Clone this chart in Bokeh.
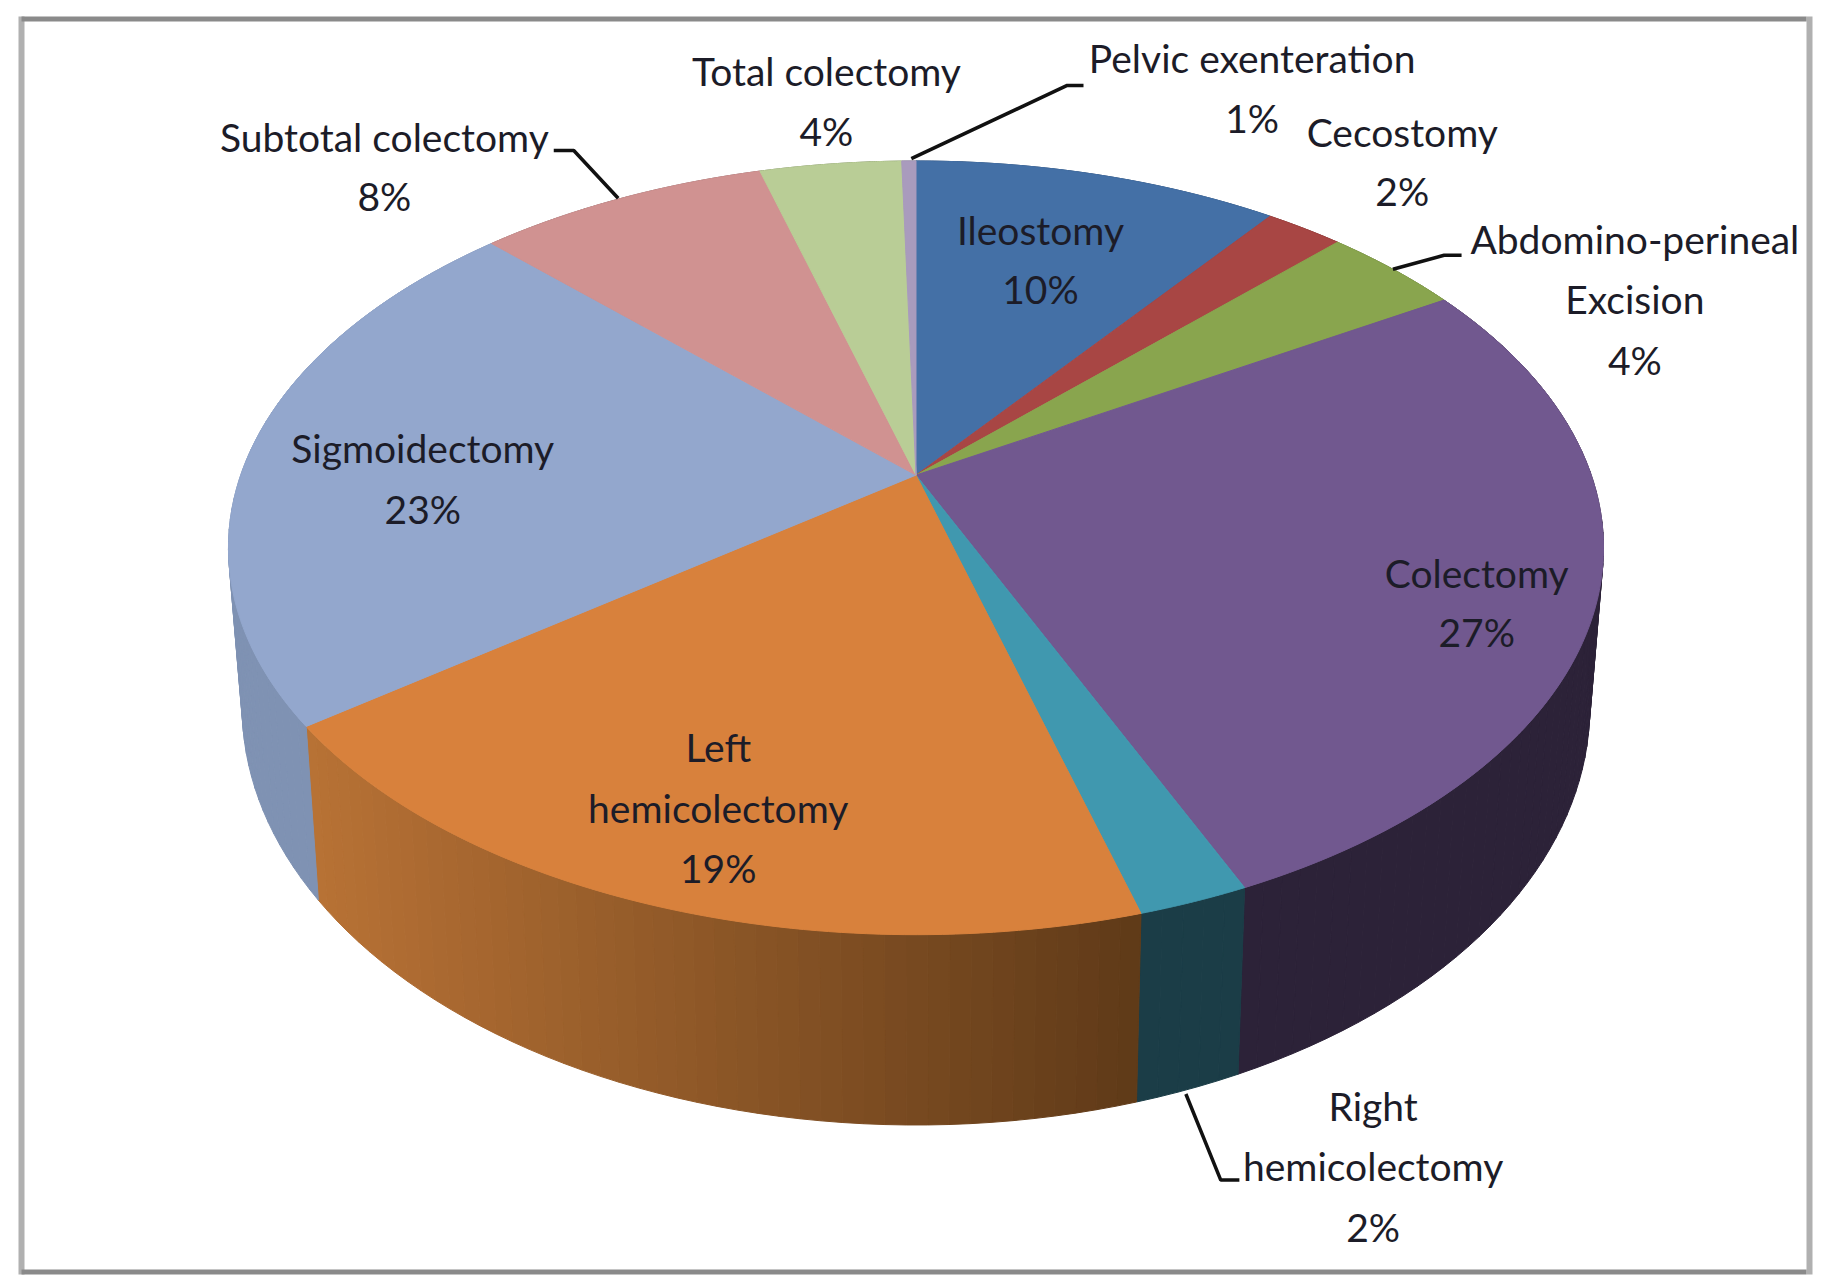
import numpy as np
from bokeh.plotting import figure
from bokeh.models import ColumnDataSource, Range1d
from bokeh.core.properties import value
from bokeh.embed import file_html
from bokeh.resources import INLINE

# ---- data ----
slices = ["Ileostomy", "Cecostomy", "Abdomino-perineal Excision", "Colectomy", "Right hemicolectomy",
          "Left hemicolectomy", "Sigmoidectomy", "Subtotal colectomy", "Total colectomy", "Pelvic exenteration"]
values = [10.3, 2.2, 3.9, 27.0, 2.2, 19.2, 22.6, 8.2, 4.0, 0.4]
top_colors = ["#4470a6", "#a84644", "#89a54e", "#71588f", "#4098af", "#d8813c", "#93a7cd", "#d09291", "#b9cd96", "#a99bbd"]
wall_left = ["#2a4568", "#692b2a", "#556730", "#2c2238", "#1b3d47", "#b87235", "#7f92b3", "#826060", "#74805e", "#6a6176"]
wall_right = ["#2a4568", "#692b2a", "#556730", "#2c2238", "#1b3d47", "#5f3a18", "#7a8bab", "#826060", "#74805e", "#6a6176"]

label_lines = ["Pelvic exenteration", "1%", "Total colectomy", "4%", "Subtotal colectomy", "8%", "Cecostomy", "2%",
               "Abdomino-perineal", "Excision", "4%", "Ileostomy", "10%", "Colectomy", "27%", "Sigmoidectomy", "23%",
               "Left", "hemicolectomy", "19%", "Right", "hemicolectomy", "2%"]

# ---- layout (page pixels) ----
W, H = 1816, 1280
S = 1824 / 1568
label_x = [1076, 1076, 710, 710, 330, 330, 1205, 1205, 1405, 1405, 1405, 894, 894, 1269, 1269, 363, 363, 617, 617, 617, 1180, 1180, 1180]
label_y = [49, 101, 61, 112, 117, 168, 113, 164, 205, 257, 309, 197, 248, 492, 543, 385, 437, 642, 694, 746, 950, 1002, 1054]
leaders = [
    ([475.6, 492.8, 531], [129, 129, 170]),
    ([931, 917, 783], [73, 73, 136]),
    ([1256, 1241, 1197], [219, 219, 231]),
    ([1019, 1049, 1065], [940, 1014, 1014]),
]
CX, CY = 787 * S, 408 * S
A, B, K = 320.8 * S, 580.5 * S, 0.188
FX, FY, CY_LOW = 0.98, 1.08, 540 * S


def top_ring(t):
    w = 1 + K * np.cos(t)
    return CX + B * np.sin(t) / w, CY - A * np.cos(t) / w


def low_ring(t):
    w = 1 + K * np.cos(t)
    return CX + FX * B * np.sin(t) / w, CY_LOW - FY * A * np.cos(t) / w


def mix(c1, c2, f):
    a = np.array([int(c1[i:i + 2], 16) for i in (1, 3, 5)], float)
    b = np.array([int(c2[i:i + 2], 16) for i in (1, 3, 5)], float)
    r = a + (b - a) * f
    return "#%02x%02x%02x" % tuple(int(round(v)) for v in r)


p = figure(width=W, height=H, output_backend="svg", toolbar_location=None,
           x_range=Range1d(0, W), y_range=Range1d(H, 0),
           min_border=0, outline_line_color=None)
p.axis.visible = False
p.grid.visible = False
p.background_fill_color = "white"

edges = np.concatenate([[0], np.cumsum(values)]) / sum(values) * 2 * np.pi

# walls, back to front
wx, wy, wc = [], [], []
for i in range(len(values)):
    t = np.linspace(edges[i], edges[i + 1], max(2, int(np.degrees(edges[i + 1] - edges[i]) / 1.5) + 1))
    x0s, _ = top_ring(np.array([edges[i], edges[i + 1]]))
    for a, b in zip(t[:-1], t[1:]):
        xa, ya = top_ring(np.array([a, b]))
        xb, yb = low_ring(np.array([b, a]))
        wx.append(list(xa) + list(xb))
        wy.append(list(ya) + list(yb))
        f = (np.mean(xa) - x0s.min()) / max(1.0, x0s.max() - x0s.min())
        wc.append(mix(wall_left[i], wall_right[i], float(np.clip(f, 0, 1))))
p.patches(wx, wy, fill_color=wc, line_color=wc, line_width=1)

# top face
tx, ty = [], []
for i in range(len(values)):
    t = np.linspace(edges[i], edges[i + 1], 80)
    x, y = top_ring(t)
    tx.append([CX] + list(x))
    ty.append([CY] + list(y))
p.patches(tx, ty, fill_color=top_colors, line_color=top_colors, line_width=1)

# leader lines
for lx, ly in leaders:
    p.line(np.array(lx) * S, np.array(ly) * S, line_color="#111111", line_width=3.5)

# labels
src = ColumnDataSource(dict(x=np.array(label_x) * S, y=np.array(label_y) * S, t=label_lines))
p.text("x", "y", text="t", source=src, text_font=value("Lato"), text_font_size="39px",
       text_align="center", text_baseline="middle", text_color="#1c1c28")

# frame: darker top and bottom, lighter sides
p.line([21, 21], [16, 1274], line_color="#b0b0b0", line_width=6)
p.line([1809, 1809], [16, 1274], line_color="#b0b0b0", line_width=6)
p.line([21, 1806], [18.5, 18.5], line_color="#8a8a8a", line_width=5)
p.line([21, 1806], [1271.5, 1271.5], line_color="#8a8a8a", line_width=5)

open("out.html", "w").write(file_html(p, INLINE))
